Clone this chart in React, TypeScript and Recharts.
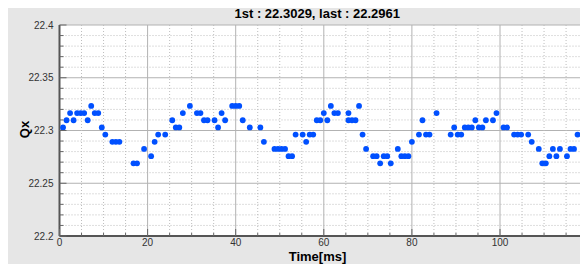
import React from "react";
import { CartesianGrid, Scatter, ScatterChart, XAxis, YAxis } from "recharts";

// Sample times (ms) and Qx tune values.
const times = [
  0.8, 1.6, 2.4, 3.2, 4.0, 4.8, 5.6, 6.4, 7.2, 8.0,
  8.8, 9.6, 10.4, 12.0, 12.8, 13.6, 16.8, 17.6, 19.2, 20.8,
  21.6, 22.4, 24.0, 25.6, 26.4, 27.2, 28.0, 29.6, 31.2, 32.0,
  32.8, 33.6, 35.2, 36.0, 36.8, 37.6, 39.2, 40.0, 40.8, 41.6,
  43.2, 45.6, 46.4, 48.8, 49.6, 50.4, 51.2, 52.0, 52.8, 53.6,
  55.2, 56.0, 56.8, 57.6, 58.4, 59.2, 60.0, 60.8, 61.6, 62.4,
  63.2, 65.6, 65.6, 66.4, 67.2, 68.0, 68.8, 69.6, 71.2, 72.0,
  72.8, 73.6, 74.4, 75.2, 76.8, 77.6, 78.4, 79.2, 80.0, 81.6,
  82.4, 83.2, 84.0, 85.6, 88.8, 89.6, 90.4, 91.2, 92.0, 92.8,
  93.6, 94.4, 95.2, 96.0, 96.8, 98.4, 99.2, 100.8, 101.6, 103.2,
  104.0, 104.8, 106.4, 107.2, 108.8, 109.6, 110.4, 111.2, 112.0, 112.8,
  113.6, 115.2, 116.0, 116.8, 117.6,
];

const qx = [
  22.3029, 22.3097, 22.3165, 22.3097, 22.3165, 22.3165, 22.3165, 22.3097, 22.3233, 22.3165,
  22.3165, 22.3029, 22.2961, 22.2893, 22.2893, 22.2893, 22.2689, 22.2689, 22.2825, 22.2757,
  22.2893, 22.2961, 22.2961, 22.3097, 22.3029, 22.3029, 22.3165, 22.3233, 22.3165, 22.3165,
  22.3097, 22.3097, 22.3097, 22.3029, 22.3165, 22.3097, 22.3233, 22.3233, 22.3233, 22.3097,
  22.3029, 22.3029, 22.2893, 22.2825, 22.2825, 22.2825, 22.2825, 22.2757, 22.2757, 22.2961,
  22.2961, 22.2893, 22.2961, 22.2961, 22.3097, 22.3097, 22.3165, 22.3097, 22.3233, 22.3165,
  22.3165, 22.3165, 22.3097, 22.3097, 22.3097, 22.3233, 22.2961, 22.2825, 22.2757, 22.2757,
  22.2689, 22.2757, 22.2757, 22.2689, 22.2825, 22.2757, 22.2757, 22.2757, 22.2893, 22.2961,
  22.3097, 22.2961, 22.2961, 22.3165, 22.2961, 22.3029, 22.2961, 22.2961, 22.3029, 22.3029,
  22.3029, 22.3097, 22.3029, 22.3029, 22.3097, 22.3097, 22.3165, 22.3029, 22.3029, 22.2961,
  22.2961, 22.2961, 22.2961, 22.2893, 22.2825, 22.2689, 22.2689, 22.2757, 22.2825, 22.2757,
  22.2825, 22.2757, 22.2825, 22.2825, 22.2961,
];

// every 5 ms; every 4th one is labelled
const xTicks = [0, 5, 10, 15, 20, 25, 30, 35, 40, 45, 50, 55, 60, 65, 70, 75, 80, 85, 90, 95, 100, 105, 110, 115];
// every 0.01; every 5th one is labelled
const yTicks = [
  22.2, 22.21, 22.22, 22.23, 22.24, 22.25, 22.26, 22.27, 22.28, 22.29, 22.3,
  22.31, 22.32, 22.33, 22.34, 22.35, 22.36, 22.37, 22.38, 22.39, 22.4,
];

const W = 580;
const H = 256;
const FONT = '"Liberation Sans", Arial, Helvetica, sans-serif';
const PANEL = "#e6e6e6";
const DOT = "#0050ff";
const AXIS = "#555";
const FRAME = "#9a9a9a";
const TICK = "#666";
const GRID_MAJOR = "#b2b2b2";
const GRID_MINOR = "#bdbdbd";

const isMajorX = (v: number) => Math.round(v) % 20 === 0;
const isMajorY = (v: number) => Math.round(v * 100) % 5 === 0;

const labelStyle = { fontFamily: FONT, fontSize: 10, fill: "#333" };

function BottomTick({ x, y, payload }: any) {
  const v = payload.value as number;
  const major = isMajorX(v);
  const base = y - 3; // tickMargin back to the axis line
  return (
    <g>
      <line x1={x} x2={x} y1={base} y2={base - (major ? 7 : 3)} stroke={TICK} />
      {major && (
        <text x={x} y={y} dy="0.71em" textAnchor="middle" {...labelStyle}>
          {v}
        </text>
      )}
    </g>
  );
}

function LeftTick({ x, y, payload }: any) {
  const v = payload.value as number;
  const major = isMajorY(v);
  const base = x + 6;
  return (
    <g>
      <line x1={base} x2={base + (major ? 7 : 4)} y1={y} y2={y} stroke={TICK} />
      {major && (
        <text x={x} y={y} dy="0.355em" textAnchor="end" {...labelStyle}>
          {String(v)}
        </text>
      )}
    </g>
  );
}

function TopTick({ x, y, payload }: any) {
  const major = isMajorX(payload.value);
  return <line x1={x} x2={x} y1={y} y2={y + (major ? 6 : 3)} stroke={TICK} />;
}

function RightTick({ x, y, payload }: any) {
  const major = isMajorY(payload.value);
  return <line x1={x} x2={x - (major ? 7 : 3)} y1={y} y2={y} stroke={TICK} />;
}

function gridLine(majorEvery: number) {
  return (p: any) => {
    const major = p.index % majorEvery === 0;
    return (
      <line
        key={`g-${p.index}`}
        x1={p.x1}
        y1={p.y1}
        x2={p.x2}
        y2={p.y2}
        stroke={major ? GRID_MAJOR : GRID_MINOR}
        strokeWidth={1}
        strokeDasharray={major ? undefined : "1 2"}
      />
    );
  };
}

export default function App() {
  const points = times.map((t, i) => ({ t, v: qx[i] }));
  const title = `1st : ${qx[0].toFixed(4)}, last : ${qx[qx.length - 1].toFixed(4)}`;

  return (
    <div style={{ position: "relative", width: W, height: H, background: PANEL }}>
      <ScatterChart width={W} height={H} margin={{ top: 17, right: 6.5, bottom: 0, left: 0 }}>
        <CartesianGrid
          fill="#fff"
          horizontal={gridLine(5)}
          vertical={gridLine(4)}
        />
        <XAxis
          type="number"
          dataKey="t"
          domain={[0, 118.5]}
          ticks={xTicks}
          interval={0}
          allowDataOverflow
          height={28}
          tickSize={0}
          tickMargin={3}
          tickLine={false}
          axisLine={{ stroke: AXIS, strokeWidth: 2 }}
          tick={<BottomTick />}
        />
        <XAxis
          xAxisId="top"
          orientation="top"
          mirror
          type="number"
          domain={[0, 118.5]}
          ticks={xTicks}
          interval={0}
          allowDataOverflow
          height={0}
          tickSize={0}
          tickMargin={0}
          tickLine={false}
          axisLine={{ stroke: FRAME, strokeWidth: 2 }}
          tick={<TopTick />}
        />
        <YAxis
          type="number"
          dataKey="v"
          domain={[22.2, 22.4]}
          ticks={yTicks}
          interval={0}
          allowDataOverflow
          width={51.5}
          tickSize={0}
          tickMargin={6}
          tickLine={false}
          axisLine={{ stroke: AXIS, strokeWidth: 2 }}
          tick={<LeftTick />}
        />
        <YAxis
          yAxisId="right"
          orientation="right"
          mirror
          type="number"
          domain={[22.2, 22.4]}
          ticks={yTicks}
          interval={0}
          allowDataOverflow
          width={0}
          tickSize={0}
          tickMargin={0}
          tickLine={false}
          axisLine={{ stroke: FRAME, strokeWidth: 2 }}
          tick={<RightTick />}
        />
        <Scatter
          data={points}
          isAnimationActive={false}
          shape={(p: any) => <circle cx={p.cx} cy={p.cy} r={2.9} fill={DOT} />}
        />
      </ScatterChart>
      {/* titles sit in an overlay that starts at the page top so the title box is not clipped */}
      <svg
        width={W}
        height={H + 8}
        style={{ position: "absolute", left: 0, top: -8, pointerEvents: "none", overflow: "visible" }}
      >
        <g fontFamily={FONT} fontWeight="bold" fontSize={13} fill="#000">
          <text x={309.3} y={18.3} textAnchor="middle">
            {title}
          </text>
          <text x={309.5} y={260.5} textAnchor="middle">
            Time[ms]
          </text>
          <text transform="translate(21.3,129.5) rotate(-90)" textAnchor="middle">
            Qx
          </text>
        </g>
      </svg>
    </div>
  );
}
